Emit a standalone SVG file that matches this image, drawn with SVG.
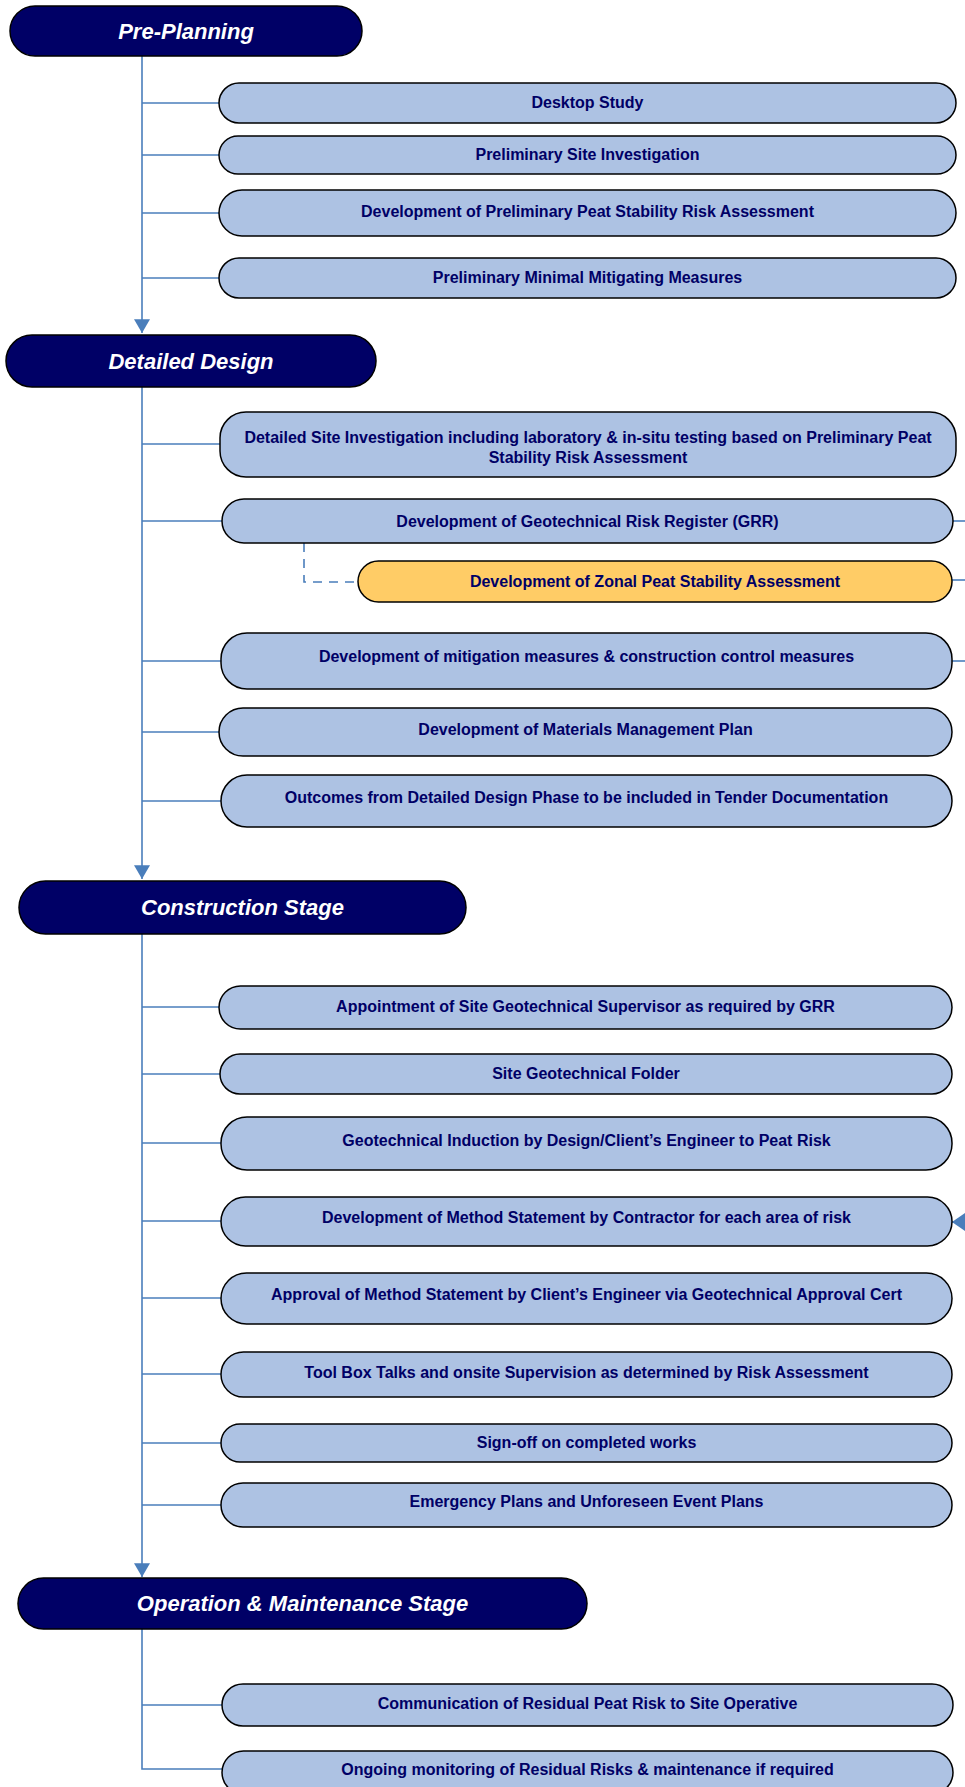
<svg xmlns="http://www.w3.org/2000/svg" width="965" height="1787" viewBox="0 0 965 1787">
<style>
.title rect{fill:#000066;stroke:#000;stroke-width:1.5}
.title text{fill:#fff;font-family:"Liberation Sans",Arial,sans-serif;font-weight:bold;font-style:italic;font-size:22px;text-anchor:middle}
.node rect{fill:#adc2e3;stroke:#000;stroke-width:1.5}
.node.hl rect{fill:#ffcc66}
.node text{fill:#000066;font-family:"Liberation Sans",Arial,sans-serif;font-weight:bold;font-size:16px;text-anchor:middle}
.conn path{fill:none;stroke:#4a7ebb;stroke-width:1.6}
.conn .dash{stroke-dasharray:9 7}
</style>
<defs>
<marker id="arr" markerUnits="userSpaceOnUse" markerWidth="16" markerHeight="16" viewBox="0 0 14 14" refX="12" refY="7" orient="auto">
<path d="M0 0 L12 7 L0 14 Z" fill="#4a7ebb"/>
</marker>
<marker id="arrL" markerUnits="userSpaceOnUse" markerWidth="16" markerHeight="20" viewBox="0 0 14 18" refX="13" refY="9" orient="auto">
<path d="M0 0 L13 9 L0 18 Z" fill="#4a7ebb"/>
</marker>
</defs>

<g id="connectors" class="conn">
<path d="M142 56 V333" marker-end="url(#arr)"/>
<path d="M142 103 H219"/>
<path d="M142 155 H219"/>
<path d="M142 213 H219"/>
<path d="M142 278 H219"/>
<path d="M142 387 V879" marker-end="url(#arr)"/>
<path d="M142 444 H220"/>
<path d="M142 521 H222"/>
<path d="M142 661 H221"/>
<path d="M142 732 H219"/>
<path d="M142 801 H221"/>
<path class="dash" d="M304 543 V582 H358"/>
<path d="M953 521 H970"/>
<path d="M952 580 H970"/>
<path d="M952 661 H970"/>
<path d="M985 1222 H952" marker-end="url(#arrL)"/>
<path d="M142 934 V1577" marker-end="url(#arr)"/>
<path d="M142 1007 H219"/>
<path d="M142 1074 H220"/>
<path d="M142 1143 H221"/>
<path d="M142 1221 H221"/>
<path d="M142 1298 H221"/>
<path d="M142 1374 H221"/>
<path d="M142 1443 H221"/>
<path d="M142 1505 H221"/>
<path d="M142 1629 V1769 H222"/>
<path d="M142 1705 H222"/>
</g>

<g id="pre-planning" class="title"><rect x="10" y="6" width="352" height="50" rx="25"/><text x="186" y="39">Pre-Planning</text></g>
<g id="desktop-study" class="node"><rect x="219" y="83" width="737" height="40" rx="20"/><text x="587.5" y="108">Desktop Study</text></g>
<g id="prelim-site-investigation" class="node"><rect x="219" y="136" width="737" height="38" rx="19"/><text x="587.5" y="160">Preliminary Site Investigation</text></g>
<g id="prelim-risk-assessment" class="node"><rect x="219" y="190" width="737" height="46" rx="23"/><text x="587.5" y="217">Development of Preliminary Peat Stability Risk Assessment</text></g>
<g id="prelim-mitigating" class="node"><rect x="219" y="258" width="737" height="40" rx="20"/><text x="587.5" y="283">Preliminary Minimal Mitigating Measures</text></g>

<g id="detailed-design" class="title"><rect x="6" y="335" width="370" height="52" rx="26"/><text x="191" y="369">Detailed Design</text></g>
<g id="detailed-site-investigation" class="node"><rect x="220" y="412" width="736" height="65" rx="26"/><text x="588" y="443">Detailed Site Investigation including laboratory &amp; in-situ testing based on Preliminary Peat</text><text x="588" y="463">Stability Risk Assessment</text></g>
<g id="grr" class="node"><rect x="222" y="499" width="731" height="44" rx="22"/><text x="587.5" y="527">Development of Geotechnical Risk Register (GRR)</text></g>
<g id="zonal" class="node hl"><rect x="358" y="561" width="594" height="41" rx="20.5"/><text x="655" y="587">Development of Zonal Peat Stability Assessment</text></g>
<g id="mitigation" class="node"><rect x="221" y="633" width="731" height="56" rx="26"/><text x="586.5" y="662">Development of mitigation measures &amp; construction control measures</text></g>
<g id="materials" class="node"><rect x="219" y="708" width="733" height="48" rx="24"/><text x="585.5" y="735">Development of Materials Management Plan</text></g>
<g id="outcomes" class="node"><rect x="221" y="775" width="731" height="52" rx="26"/><text x="586.5" y="803">Outcomes from Detailed Design Phase to be included in Tender Documentation</text></g>

<g id="construction-stage" class="title"><rect x="19" y="881" width="447" height="53" rx="26.5"/><text x="242.5" y="915">Construction Stage</text></g>
<g id="appointment" class="node"><rect x="219" y="986" width="733" height="43" rx="21.5"/><text x="585.5" y="1012">Appointment of Site Geotechnical Supervisor as required by GRR</text></g>
<g id="folder" class="node"><rect x="220" y="1054" width="732" height="40" rx="20"/><text x="586" y="1079">Site Geotechnical Folder</text></g>
<g id="induction" class="node"><rect x="221" y="1117" width="731" height="53" rx="26"/><text x="586.5" y="1146">Geotechnical Induction by Design/Client’s Engineer to Peat Risk</text></g>
<g id="method-statement" class="node"><rect x="221" y="1197" width="731" height="49" rx="24.5"/><text x="586.5" y="1223">Development of Method Statement by Contractor for each area of risk</text></g>
<g id="approval" class="node"><rect x="221" y="1273" width="731" height="51" rx="25.5"/><text x="586.5" y="1300">Approval of Method Statement by Client’s Engineer via Geotechnical Approval Cert</text></g>
<g id="toolbox" class="node"><rect x="221" y="1352" width="731" height="45" rx="22.5"/><text x="586.5" y="1378">Tool Box Talks and onsite Supervision as determined by Risk Assessment</text></g>
<g id="signoff" class="node"><rect x="221" y="1424" width="731" height="38" rx="19"/><text x="586.5" y="1448">Sign-off on completed works</text></g>
<g id="emergency" class="node"><rect x="221" y="1483" width="731" height="44" rx="22"/><text x="586.5" y="1507">Emergency Plans and Unforeseen Event Plans</text></g>

<g id="om-stage" class="title"><rect x="18" y="1578" width="569" height="51" rx="25.5"/><text x="302.5" y="1611">Operation &amp; Maintenance Stage</text></g>
<g id="communication" class="node"><rect x="222" y="1684" width="731" height="42" rx="21"/><text x="587.5" y="1709">Communication of Residual Peat Risk to Site Operative</text></g>
<g id="ongoing" class="node"><rect x="222" y="1751" width="731" height="43" rx="21.5"/><text x="587.5" y="1775">Ongoing monitoring of Residual Risks &amp; maintenance if required</text></g>
</svg>
